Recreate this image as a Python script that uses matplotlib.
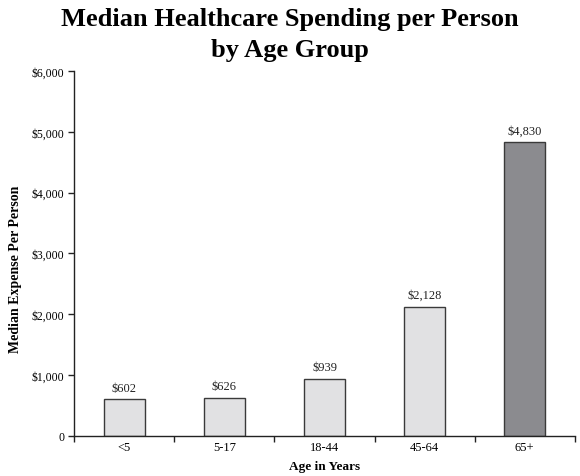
#!/usr/bin/env python3
'''Median healthcare spending per person by age group'''

import matplotlib
matplotlib.use('Agg')
import matplotlib.pyplot as plt
from matplotlib.ticker import FuncFormatter

ages = ['<5', '5-17', '18-44', '45-64', '65+']
spending = [602, 626, 939, 2128, 4830]
bar_colors = ['#e1e1e3', '#e1e1e3', '#e1e1e3', '#e1e1e3', '#8b8b8f']

plt.rcParams['font.family'] = ['Liberation Serif', 'DejaVu Serif']

fig = plt.figure(figsize=(5.8, 4.77), dpi=100)
ax = fig.add_axes([0.128, 0.084, 0.863, 0.765])

x = list(range(len(ages)))
ax.bar(x, spending, width=0.41, color=bar_colors, edgecolor='#3a3a3a', linewidth=1.0)

for xi, v in zip(x, spending):
    ax.annotate('${:,}'.format(v), (xi, v), xytext=(0, 4), textcoords='offset points',
                ha='center', va='bottom', fontsize=9, color='#222222')

ax.set_xlim(-0.5, 4.5)
ax.set_ylim(0, 6000)
ax.set_yticks(range(0, 6001, 1000))
ax.yaxis.set_major_formatter(FuncFormatter(lambda v, p: '0' if v == 0 else '${:,.0f}'.format(v)))

# category labels at centers, tick marks at boundaries
ax.set_xticks(x)
ax.set_xticklabels(ages)
ax.set_xticks([i + 0.5 for i in range(-1, len(ages))], minor=True)
ax.tick_params(axis='x', which='major', length=0, pad=4, labelsize=9)
ax.tick_params(axis='x', which='minor', length=4, width=1, color='#222222')
ax.tick_params(axis='y', length=4, width=1, labelsize=8.5, color='#222222', pad=3)

for s in ['top', 'right']:
    ax.spines[s].set_visible(False)
for s in ['left', 'bottom']:
    ax.spines[s].set_color('#222222')
    ax.spines[s].set_linewidth(1.0)

ax.set_xlabel('Age in Years', fontsize=9.5, fontweight='bold', labelpad=5)
ax.set_ylabel('Median Expense Per Person', fontsize=10, fontweight='bold')
ax.yaxis.set_label_coords(-0.104, 0.46)

fig.text(0.5, 0.9455, 'Median Healthcare Spending per Person',
         ha='center', va='baseline', fontsize=19, fontweight='bold')
fig.text(0.5, 0.8805, 'by Age Group',
         ha='center', va='baseline', fontsize=19, fontweight='bold')

fig.savefig('out.png', dpi=100)
